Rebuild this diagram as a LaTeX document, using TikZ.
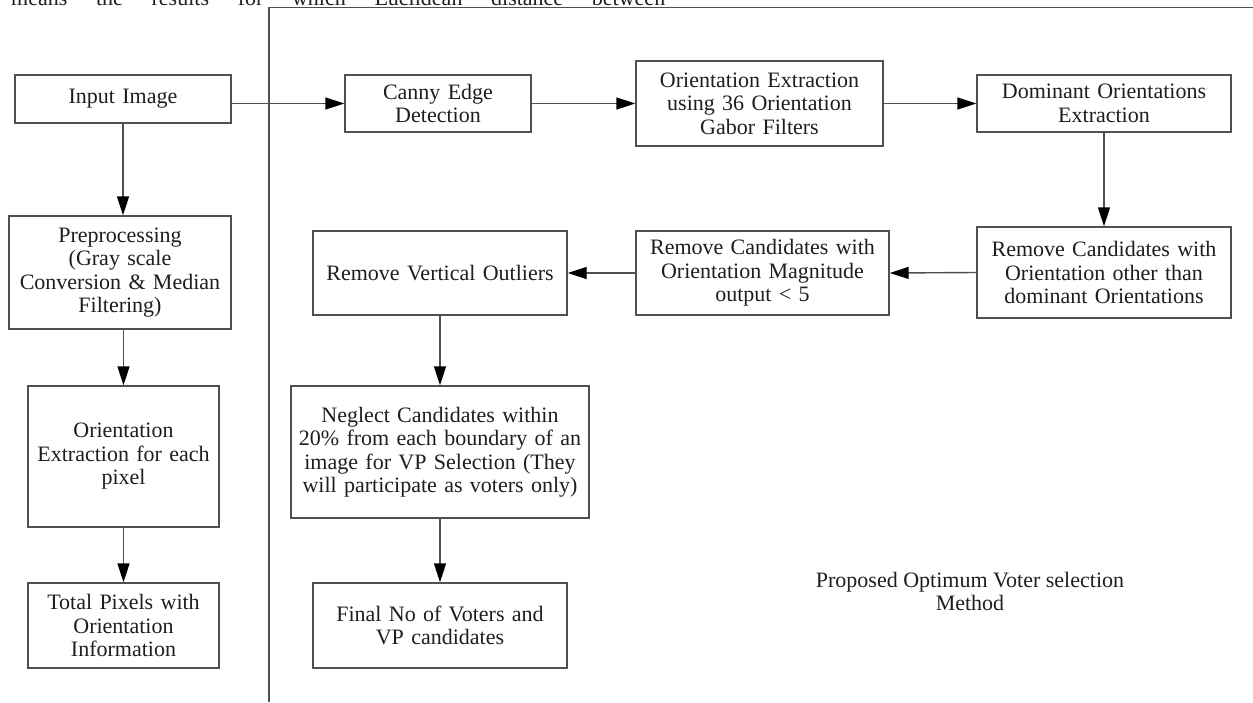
\documentclass[tikz,border=0pt]{standalone}
\usepackage{fontspec}
\setmainfont{Liberation Serif}
\usetikzlibrary{arrows.meta}
\definecolor{edgegray}{HTML}{505050}
\definecolor{txt}{HTML}{1E1E1E}
\begin{document}
\begin{tikzpicture}[x=1pt,y=-1pt,
  blk/.style={draw=edgegray, line width=1.4pt, fill=white, text=txt,
    inner sep=2pt, align=center, font=\fontsize{22}{23.5}\selectfont},
  flow/.style={draw=edgegray, line width=1.4pt,
    -{Triangle[length=19pt,width=12pt,fill=black,color=black]}},
  frameln/.style={draw=edgegray, line width=1.5pt}]
\useasboundingbox (0,0) rectangle (1253,702);
\begin{scope}
\clip (0,0) rectangle (1253,702);
\node[anchor=base west, inner sep=0pt, text=txt, font=\fontsize{22}{24}\selectfont] (toptext) at (11,5)
  {\makebox[654pt][s]{means the results for which Euclidean distance between}};
\end{scope}
% frame
\coordinate (frbot) at (269,702);
\coordinate (frcorner) at (269,7.5);
\coordinate (frright) at (1253,7.5);
\draw[frameln] (frbot) -- (frcorner) -- (frright);
% left column
\node[blk, minimum width=216pt, minimum height=48pt, text width=210pt] (inp) at (123,99) {Input Image};
\node[blk, minimum width=222pt, minimum height=113pt, text width=216pt] (pre) at (120,272.5)
  {Preprocessing\\(Gray scale\\Conversion \& Median\\Filtering)};
\node[blk, minimum width=191pt, minimum height=141pt, text width=185pt] (oep) at (123.5,456.5)
  {Orientation\\Extraction for each\\pixel};
\node[blk, minimum width=191pt, minimum height=85pt, text width=185pt] (tot) at (123.5,625.5)
  {Total Pixels with\\Orientation\\Information};
% right part
\node[blk, minimum width=186pt, minimum height=57pt, text width=180pt] (can) at (438,103.5)
  {Canny Edge\\Detection};
\node[blk, minimum width=247pt, minimum height=85pt, text width=241pt] (ore) at (759.5,103.5)
  {Orientation Extraction\\using 36 Orientation\\Gabor Filters};
\node[blk, minimum width=254pt, minimum height=57pt, text width=248pt] (dom) at (1104,103.5)
  {Dominant Orientations\\Extraction};
\node[blk, minimum width=254pt, minimum height=91pt, text width=248pt] (rmo) at (1104,272.5)
  {Remove Candidates with\\Orientation other than\\dominant Orientations};
\node[blk, minimum width=253pt, minimum height=84pt, text width=247pt] (mag) at (762.5,273)
  {Remove Candidates with\\Orientation Magnitude\\output < 5};
\node[blk, minimum width=254pt, minimum height=84pt, text width=248pt] (vo) at (440,273)
  {Remove Vertical Outliers};
\node[blk, minimum width=298pt, minimum height=132pt, text width=292pt] (neg) at (440,452)
  {Neglect Candidates within\\20\% from each boundary of an\\image for VP Selection (They\\will participate as voters only)};
\node[blk, minimum width=254pt, minimum height=85pt, text width=248pt] (fin) at (440,625.5)
  {Final No of Voters and\\VP candidates};
\node[align=center, text=txt, font=\fontsize{22}{23}\selectfont, inner sep=0pt] (cap) at (970,591)
  {Proposed Optimum Voter selection\\Method};
% connectors
\draw[flow] (inp.south) -- (inp.south |- pre.north);
\draw[flow] (oep.north |- pre.south) -- (oep.north);
\draw[flow] (oep.south) -- (tot.north);
\draw[flow] (inp.east |- can.west) -- (can.west);
\draw[flow] (can.east) -- (ore.west);
\draw[flow] (ore.east) -- (dom.west);
\draw[flow] (dom.south) -- (rmo.north);
\draw[flow] (rmo.west) -- (mag.east);
\draw[flow] (mag.west) -- (vo.east);
\draw[flow] (vo.south) -- (neg.north);
\draw[flow] (neg.south) -- (fin.north);
\end{tikzpicture}
\end{document}
